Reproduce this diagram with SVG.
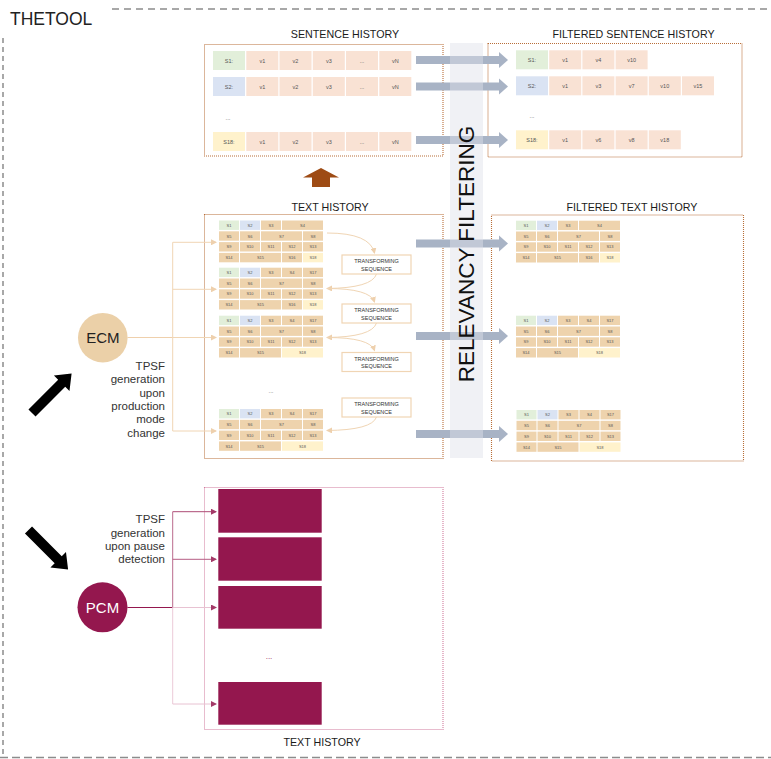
<svg xmlns="http://www.w3.org/2000/svg" xmlns:xlink="http://www.w3.org/1999/xlink" width="771" height="759" viewBox="0 0 771 759">
<style>
text{font-family:"Liberation Sans",Arial,sans-serif}
.title{font-size:10.7px;fill:#1a1a1a;text-anchor:middle}
.frame{fill:none;stroke:#8c8c8c;stroke-width:1.5}
.box{fill:none;stroke:#b86e38;stroke-width:1.1;stroke-dasharray:1 1}
.pbox{fill:none;stroke:#d27b9e;stroke-width:1.1;stroke-dasharray:1 1}
.c{fill:#eed3ad}.g{fill:#e2efda}.b{fill:#dae3f3}.y{fill:#fff2cc}.v{fill:#f9e2d4}
.ct{font-size:4px;fill:#555;text-anchor:middle}
.st{font-size:5.5px;fill:#555;text-anchor:middle}
.tan{fill:none;stroke:#f0d5b4;stroke-width:1}
.tbox{fill:#fff;stroke:#f0d5b4;stroke-width:1.2}
.tt{font-size:5.5px;fill:#333;text-anchor:middle}
.lbl{font-size:11.5px;fill:#333;text-anchor:end}
.garr{fill:#a8b3c5}
.mag{fill:#94174e}
</style>
<defs>
<marker id="mt" markerWidth="6" markerHeight="6" refX="5" refY="3" orient="auto" markerUnits="userSpaceOnUse"><path d="M0,0 L6,3 L0,6 Z" fill="#eed0ad"/></marker>
<marker id="mm" markerWidth="6" markerHeight="6" refX="5" refY="3" orient="auto" markerUnits="userSpaceOnUse"><path d="M0,0 L6,3 L0,6 Z" fill="#a33a68"/></marker>
<path id="garrow" class="garr" d="M0,-4 H83 V-8 L92,0 L83,8 V4 H0 Z"/>
<g id="r23">
<rect class="c" x="0" y="10.8" width="20" height="9.4"/><text class="ct" x="10" y="17">S5</text>
<rect class="c" x="21" y="10.8" width="20" height="9.4"/><text class="ct" x="31" y="17">S6</text>
<rect class="c" x="42" y="10.8" width="41" height="9.4"/><text class="ct" x="62.5" y="17">S7</text>
<rect class="c" x="84" y="10.8" width="20" height="9.4"/><text class="ct" x="94" y="17">S8</text>
<rect class="c" x="0" y="21.6" width="20" height="9.4"/><text class="ct" x="10" y="27.8">S9</text>
<rect class="c" x="21" y="21.6" width="20" height="9.4"/><text class="ct" x="31" y="27.8">S10</text>
<rect class="c" x="42" y="21.6" width="20" height="9.4"/><text class="ct" x="52" y="27.8">S11</text>
<rect class="c" x="63" y="21.6" width="20" height="9.4"/><text class="ct" x="73" y="27.8">S12</text>
<rect class="c" x="84" y="21.6" width="20" height="9.4"/><text class="ct" x="94" y="27.8">S13</text>
</g>
<g id="r1a">
<rect class="g" x="0" y="0" width="20" height="9.4"/><text class="ct" x="10" y="6.2">S1</text>
<rect class="b" x="21" y="0" width="20" height="9.4"/><text class="ct" x="31" y="6.2">S2</text>
<rect class="c" x="42" y="0" width="20" height="9.4"/><text class="ct" x="52" y="6.2">S3</text>
</g>
<g id="r4ab">
<rect class="c" x="0" y="32.4" width="20" height="9.4"/><text class="ct" x="10" y="38.6">S14</text>
<rect class="c" x="21" y="32.4" width="41" height="9.4"/><text class="ct" x="41.5" y="38.6">S15</text>
<rect class="c" x="63" y="32.4" width="20" height="9.4"/><text class="ct" x="73" y="38.6">S16</text>
<rect class="y" x="84" y="32.4" width="20" height="9.4"/><text class="ct" x="94" y="38.6">S18</text>
</g>
<g id="r1b">
<use href="#r1a"/>
<rect class="c" x="63" y="0" width="20" height="9.4"/><text class="ct" x="73" y="6.2">S4</text>
<rect class="c" x="84" y="0" width="20" height="9.4"/><text class="ct" x="94" y="6.2">S17</text>
</g>
<g id="tblA">
<use href="#r1a"/>
<rect class="c" x="63" y="0" width="41" height="9.4"/><text class="ct" x="83.5" y="6.2">S4</text>
<use href="#r23"/><use href="#r4ab"/>
</g>
<g id="tblB"><use href="#r1b"/><use href="#r23"/><use href="#r4ab"/></g>
<g id="tblC">
<use href="#r1b"/><use href="#r23"/>
<rect class="c" x="0" y="32.4" width="20" height="9.4"/><text class="ct" x="10" y="38.6">S14</text>
<rect class="c" x="21" y="32.4" width="41" height="9.4"/><text class="ct" x="41.5" y="38.6">S15</text>
<rect class="y" x="63" y="32.4" width="41" height="9.4"/><text class="ct" x="83.5" y="38.6">S18</text>
</g>
<g id="tseq">
<rect class="tbox" x="0" y="0" width="69" height="19"/>
<text class="tt" x="34.5" y="8.3">TRANSFORMING</text>
<text class="tt" x="34.5" y="15.8">SEQUENCE</text>
</g>
</defs>
<rect width="771" height="759" fill="#fff"/>

<g id="frame">
<path class="frame" d="M112,9 H771" stroke-dasharray="7 5"/>
<path class="frame" d="M3,38 V757" stroke-dasharray="5 4"/>
<path class="frame" d="M0,757.5 H771" stroke-dasharray="8 4"/>
<text x="10" y="25" font-size="17.5" fill="#222">THETOOL</text>
</g>

<g id="relevancy-band">
<rect x="450" y="43" width="33" height="415" fill="#f0f1f5"/>
</g>

<g id="sentence-history">
<text class="title" x="345" y="37.5">SENTENCE HISTORY</text>
<rect class="box" x="204.5" y="44.5" width="238.5" height="111.5"/>
<rect class="g" x="213" y="51" width="32" height="19"/><text class="st" x="229" y="62.5">S1:</text>
<rect class="v" x="246.3" y="51" width="32" height="19"/><text class="st" x="262.3" y="62.5">v1</text>
<rect class="v" x="279.5" y="51" width="32" height="19"/><text class="st" x="295.5" y="62.5">v2</text>
<rect class="v" x="312.8" y="51" width="32" height="19"/><text class="st" x="328.8" y="62.5">v3</text>
<rect class="v" x="346" y="51" width="32" height="19"/><text class="st" x="362" y="62.5">...</text>
<rect class="v" x="379.3" y="51" width="32" height="19"/><text class="st" x="395.3" y="62.5">vN</text>
<rect class="b" x="213" y="77" width="32" height="19"/><text class="st" x="229" y="88.5">S2:</text>
<rect class="v" x="246.3" y="77" width="32" height="19"/><text class="st" x="262.3" y="88.5">v1</text>
<rect class="v" x="279.5" y="77" width="32" height="19"/><text class="st" x="295.5" y="88.5">v2</text>
<rect class="v" x="312.8" y="77" width="32" height="19"/><text class="st" x="328.8" y="88.5">v3</text>
<rect class="v" x="346" y="77" width="32" height="19"/><text class="st" x="362" y="88.5">...</text>
<rect class="v" x="379.3" y="77" width="32" height="19"/><text class="st" x="395.3" y="88.5">vN</text>
<text x="228" y="120" font-size="6" fill="#555" text-anchor="middle">...</text>
<rect class="y" x="213" y="132" width="32" height="19"/><text class="st" x="229" y="143.5">S18:</text>
<rect class="v" x="246.3" y="132" width="32" height="19"/><text class="st" x="262.3" y="143.5">v1</text>
<rect class="v" x="279.5" y="132" width="32" height="19"/><text class="st" x="295.5" y="143.5">v2</text>
<rect class="v" x="312.8" y="132" width="32" height="19"/><text class="st" x="328.8" y="143.5">v3</text>
<rect class="v" x="346" y="132" width="32" height="19"/><text class="st" x="362" y="143.5">...</text>
<rect class="v" x="379.3" y="132" width="32" height="19"/><text class="st" x="395.3" y="143.5">vN</text>
</g>

<g id="filtered-sentence-history">
<text class="title" x="633.5" y="37.5">FILTERED SENTENCE HISTORY</text>
<rect class="box" x="488" y="43.5" width="254" height="113.5"/>
<rect class="g" x="516" y="50.3" width="32" height="19"/><text class="st" x="532" y="61.8">S1:</text>
<rect class="v" x="549.2" y="50.3" width="32" height="19"/><text class="st" x="565.2" y="61.8">v1</text>
<rect class="v" x="582.4" y="50.3" width="32" height="19"/><text class="st" x="598.4" y="61.8">v4</text>
<rect class="v" x="615.6" y="50.3" width="32" height="19"/><text class="st" x="631.6" y="61.8">v10</text>
<rect class="b" x="516" y="76.3" width="32" height="19"/><text class="st" x="532" y="87.8">S2:</text>
<rect class="v" x="549.2" y="76.3" width="32" height="19"/><text class="st" x="565.2" y="87.8">v1</text>
<rect class="v" x="582.4" y="76.3" width="32" height="19"/><text class="st" x="598.4" y="87.8">v3</text>
<rect class="v" x="615.6" y="76.3" width="32" height="19"/><text class="st" x="631.6" y="87.8">v7</text>
<rect class="v" x="648.8" y="76.3" width="32" height="19"/><text class="st" x="664.8" y="87.8">v10</text>
<rect class="v" x="682" y="76.3" width="32" height="19"/><text class="st" x="698" y="87.8">v15</text>
<text x="532" y="118" font-size="6" fill="#555" text-anchor="middle">...</text>
<rect class="y" x="516" y="130.3" width="32" height="19"/><text class="st" x="532" y="141.8">S18:</text>
<rect class="v" x="549.2" y="130.3" width="32" height="19"/><text class="st" x="565.2" y="141.8">v1</text>
<rect class="v" x="582.4" y="130.3" width="32" height="19"/><text class="st" x="598.4" y="141.8">v6</text>
<rect class="v" x="615.6" y="130.3" width="32" height="19"/><text class="st" x="631.6" y="141.8">v8</text>
<rect class="v" x="648.8" y="130.3" width="32" height="19"/><text class="st" x="664.8" y="141.8">v18</text>
</g>

<g id="up-arrow">
<path d="M321,168 L339,177.5 H330 V187 H312 V177.5 H303 Z" fill="#9e4b14"/>
</g>

<g id="text-history">
<text class="title" x="330" y="211">TEXT HISTORY</text>
<rect class="box" x="204.5" y="214.5" width="238.5" height="244"/>
<use href="#tblA" x="219" y="220.5"/>
<use href="#tblB" x="219" y="267.7"/>
<use href="#tblC" x="219" y="315.7"/>
<text x="271" y="393" font-size="6" fill="#666" text-anchor="middle">...</text>
<use href="#tblC" x="219" y="409"/>
</g>

<g id="transforming-1"><use href="#tseq" x="342" y="255"/></g>
<g id="transforming-2"><use href="#tseq" x="342" y="304"/></g>
<g id="transforming-3"><use href="#tseq" x="342" y="352.5"/></g>
<g id="transforming-4"><use href="#tseq" x="342" y="398"/></g>

<g id="filtered-text-history">
<text class="title" x="632" y="211">FILTERED TEXT HISTORY</text>
<rect class="box" x="491.5" y="215" width="252" height="246"/>
<use href="#tblA" x="516" y="220.7"/>
<use href="#tblC" x="516" y="315.7"/>
<use href="#tblC" x="516.5" y="410"/>
</g>

<g id="pcm-text-history">
<rect class="pbox" x="204.5" y="487.5" width="238.5" height="242"/>
<rect class="mag" x="218.3" y="489" width="103.4" height="43.7"/>
<rect class="mag" x="218.3" y="537.3" width="103.4" height="43.4"/>
<rect class="mag" x="218.3" y="586" width="103.4" height="42.7"/>
<text x="269" y="659" font-size="8" fill="#94174e" text-anchor="middle">...</text>
<rect class="mag" x="218.3" y="682" width="103.4" height="42.7"/>
<text class="title" x="322" y="746">TEXT HISTORY</text>
</g>

<g id="connectors">
<use href="#garrow" x="416" y="60"/>
<use href="#garrow" x="416" y="86.5"/>
<use href="#garrow" x="416" y="140"/>
<use href="#garrow" x="416" y="243.5"/>
<use href="#garrow" x="416" y="336"/>
<use href="#garrow" x="416" y="434"/>
<path class="tan" d="M327,233 Q370,233 374.5,253" marker-end="url(#mt)"/>
<path class="tan" d="M376.5,274 Q372,288 327,288.5" marker-end="url(#mt)"/>
<path class="tan" d="M327,288.5 Q370,288.5 374.5,302" marker-end="url(#mt)"/>
<path class="tan" d="M376.5,323 Q372,337 327,337.5" marker-end="url(#mt)"/>
<path class="tan" d="M327,337.5 Q370,337.5 374.5,350.5" marker-end="url(#mt)"/>
<path class="tan" d="M376.5,417 Q372,430 327,430.5" marker-end="url(#mt)"/>
<path d="M127.5,337.5 H172.7" stroke="#efd0ac" stroke-width="1.2" fill="none"/>
<path class="tan" d="M172.7,242.3 V431"/>
<path class="tan" d="M172.7,242.3 H216" marker-end="url(#mt)"/>
<path class="tan" d="M172.7,289.3 H216" marker-end="url(#mt)"/>
<path class="tan" d="M172.7,337.5 H216" marker-end="url(#mt)"/>
<path class="tan" d="M172.7,431 H216" marker-end="url(#mt)"/>
<path d="M127.5,607.5 H172.7" stroke="#94174e" stroke-width="1.2" fill="none"/>
<path d="M172.7,511.7 V607.5" stroke="#bb6a8d" stroke-width="1" fill="none"/>
<path d="M172.7,607.5 V704" stroke="#eccad8" stroke-width="1" fill="none"/>
<path d="M172.7,511.7 H216" stroke="#ad4c76" stroke-width="1" fill="none" marker-end="url(#mm)"/>
<path d="M172.7,559.3 H216" stroke="#b65d84" stroke-width="1" fill="none" marker-end="url(#mm)"/>
<path d="M172.7,607.5 H216" stroke="#e8c2d2" stroke-width="1" fill="none" marker-end="url(#mm)"/>
<path d="M172.7,704 H216" stroke="#e8c2d2" stroke-width="1" fill="none" marker-end="url(#mm)"/>
<polygon points="0,-5 42,-5 42,-11 56,0 42,11 42,5 0,5" fill="#000" transform="translate(32,413) rotate(-45)"/>
<polygon points="0,-5 42,-5 42,-11 56,0 42,11 42,5 0,5" fill="#000" transform="translate(28.5,530) rotate(45)"/>
</g>

<g id="relevancy-filtering">
<rect x="450" y="43" width="33" height="415" fill="#f0f1f5" opacity="0.35"/>
<text x="0" y="0" font-size="22.5" fill="#111" text-anchor="middle" transform="translate(474,254) rotate(-90)">RELEVANCY FILTERING</text>
</g>

<g id="ecm">
<circle cx="102.8" cy="337.7" r="24.8" fill="#ebd0a8"/>
<text x="102.8" y="343" font-size="15" fill="#222" text-anchor="middle" font-family="'Open Sans',sans-serif">ECM</text>
<text class="lbl" x="165" y="370">TPSF</text>
<text class="lbl" x="165" y="383.3">generation</text>
<text class="lbl" x="165" y="396.6">upon</text>
<text class="lbl" x="165" y="409.9">production</text>
<text class="lbl" x="165" y="423.2">mode</text>
<text class="lbl" x="165" y="436.5">change</text>
</g>

<g id="pcm">
<circle cx="102.5" cy="607.3" r="25" fill="#94174e"/>
<text x="102.5" y="612.6" font-size="15" fill="#fff" text-anchor="middle" font-family="'Open Sans',sans-serif">PCM</text>
<text class="lbl" x="165" y="523.3">TPSF</text>
<text class="lbl" x="165" y="536.6">generation</text>
<text class="lbl" x="165" y="549.9">upon pause</text>
<text class="lbl" x="165" y="563.2">detection</text>
</g>
</svg>
